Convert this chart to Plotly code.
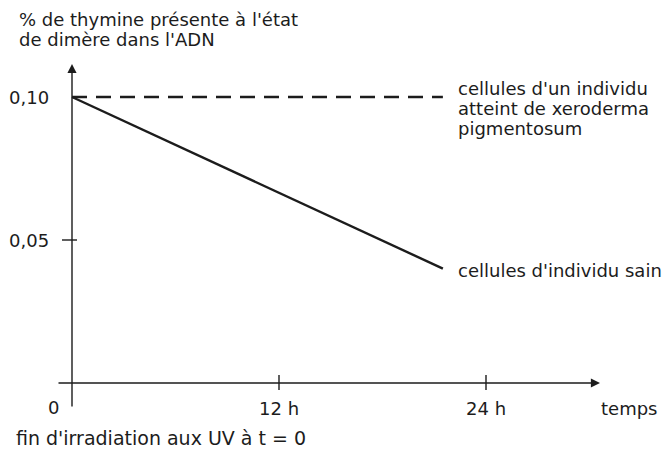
import plotly.graph_objects as go

# ---- data ----
hours = [0, 21.5]
healthy = [0.100, 0.040]
xeroderma = [0.100, 0.100]
x_ticks = [12, 24]
x_tick_labels = ["12 h", "24 h"]
y_ticks = [0.10, 0.05]
y_tick_labels = ["0,10", "0,05"]
y_tick_marks = [0.05]

W, H = 663, 449
X0PX, PXH = 72, 17.25      # window pixel of t=0, pixels per hour
Y0PX, PXV = 383, 2860      # window pixel of 0 %, pixels per unit

def hx(px):
    return (px - X0PX) / PXH

def vy(py):
    return (Y0PX - py) / PXV

def pxp(px):
    return px / W

def pyp(py):
    return 1 - py / H

ink = "#1c1c1c"
font = "DejaVu Sans"

fig = go.Figure()
fig.add_trace(go.Scatter(x=hours, y=xeroderma, mode="lines",
                         line=dict(color=ink, width=2.4, dash="15px,9px"),
                         showlegend=False, hoverinfo="skip"))
fig.add_trace(go.Scatter(x=hours, y=healthy, mode="lines",
                         line=dict(color=ink, width=2.4),
                         showlegend=False, hoverinfo="skip"))

ann = []
# axes with arrows
ann.append(dict(x=0, y=vy(64), ax=0, ay=vy(408), xref="x", yref="y",
                axref="x", ayref="y", text="", showarrow=True,
                arrowhead=2, arrowsize=1.3, arrowwidth=1.4, arrowcolor=ink))
ann.append(dict(x=hx(600), y=0, ax=hx(57), ay=0, xref="x", yref="y",
                axref="x", ayref="y", text="", showarrow=True,
                arrowhead=2, arrowsize=1.3, arrowwidth=1.4, arrowcolor=ink))

shapes = []
for t in x_ticks:
    shapes.append(dict(type="line", xref="x", yref="y", x0=t, x1=t,
                       y0=vy(375), y1=vy(390), line=dict(color=ink, width=1.4)))
for v in y_tick_marks:
    shapes.append(dict(type="line", xref="x", yref="y", x0=hx(62), x1=hx(77),
                       y0=v, y1=v, line=dict(color=ink, width=1.4)))

tf = dict(family=font, size=18, color=ink)
for t, lab in zip(x_ticks, x_tick_labels):
    ann.append(dict(x=t, y=vy(408), xref="x", yref="y", text=lab,
                    showarrow=False, font=tf, xanchor="center", yanchor="middle"))
for v, lab in zip(y_ticks, y_tick_labels):
    ann.append(dict(x=hx(51), y=v, xref="x", yref="y", text=lab,
                    showarrow=False, font=tf, xanchor="right", yanchor="middle"))
ann.append(dict(x=hx(61), y=vy(407), xref="x", yref="y", text="0",
                showarrow=False, font=tf, xanchor="right", yanchor="middle"))
ann.append(dict(x=hx(599), y=vy(408), xref="x", yref="y", text="temps",
                showarrow=False, font=tf, xanchor="left", yanchor="middle"))

# series labels (one line per annotation for tight spacing)
xp_lines = ["cellules d'un individu", "atteint de xeroderma", "pigmentosum"]
for i, line in enumerate(xp_lines):
    ann.append(dict(x=hx(456), y=vy(88 + 20 * i), xref="x", yref="y",
                    text=line, showarrow=False, font=tf,
                    xanchor="left", yanchor="middle"))
ann.append(dict(x=hx(456), y=vy(270), xref="x", yref="y",
                text="cellules d'individu sain",
                showarrow=False, font=tf, xanchor="left", yanchor="middle"))

# title & footnote
title_lines = ["% de thymine présente à l'état", "de dimère dans l'ADN"]
for i, line in enumerate(title_lines):
    ann.append(dict(x=pxp(17), y=pyp(20 + 20 * i), xref="paper", yref="paper",
                    text=line, showarrow=False, font=tf,
                    xanchor="left", yanchor="middle"))
ann.append(dict(x=pxp(14), y=pyp(438), xref="paper", yref="paper",
                text="fin d'irradiation aux UV à t = 0",
                showarrow=False, font=dict(family=font, size=19, color=ink),
                xanchor="left", yanchor="middle"))

fig.update_layout(
    width=W, height=H,
    margin=dict(l=0, r=0, t=0, b=0),
    paper_bgcolor="white", plot_bgcolor="white",
    xaxis=dict(range=[hx(0), hx(W)], visible=False, fixedrange=True),
    yaxis=dict(range=[vy(H), vy(0)], visible=False, fixedrange=True),
    annotations=ann, shapes=shapes,
)
fig.write_html(
    "out.html",
    config={"displayModeBar": False, "staticPlot": True},
    post_script="document.body.style.margin='0';"
                "document.body.style.overflow='hidden';",
)
